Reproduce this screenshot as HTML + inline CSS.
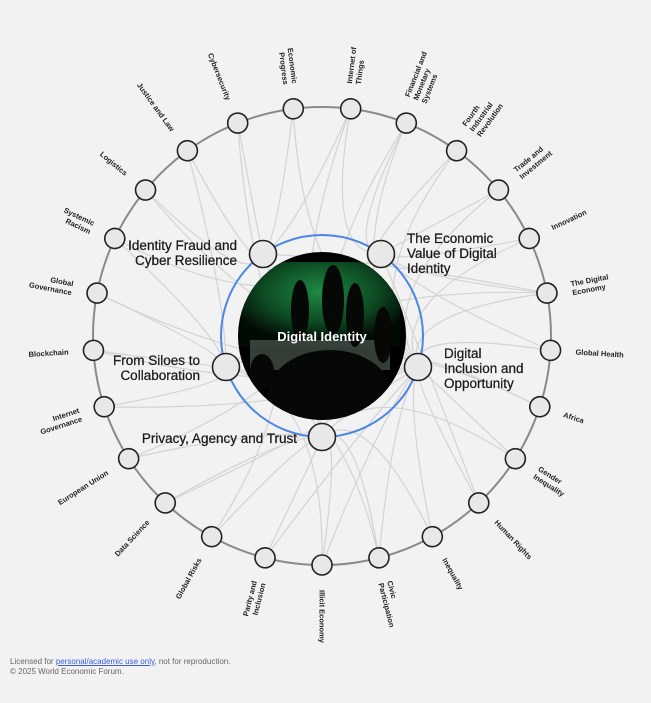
<!DOCTYPE html>
<html><head><meta charset="utf-8"><style>
html,body{margin:0;padding:0;background:#f2f2f2;}
body{width:651px;height:703px;overflow:hidden;position:relative;font-family:"Liberation Sans",sans-serif;}
.foot{position:absolute;left:10px;font-size:8px;color:#666;}
.foot a{color:#3a5de0;text-decoration:underline;}
</style></head><body>
<svg width="651" height="703" viewBox="0 0 651 703" xmlns="http://www.w3.org/2000/svg" style="position:absolute;left:0;top:0">
<defs>
<radialGradient id="g" cx="50%" cy="35%" r="60%"><stop offset="0" stop-color="#1e8a44"/><stop offset="0.6" stop-color="#0d4a22"/><stop offset="1" stop-color="#020a04"/></radialGradient>
<clipPath id="cp"><circle cx="322" cy="336" r="84"/></clipPath>
</defs>
<g id="conn" fill="none" stroke="#d3d3d3" stroke-width="1.2"></g>
<circle cx="322" cy="336" r="229" fill="none" stroke="#8a8a8a" stroke-width="2"/>
<circle cx="322" cy="336" r="101" fill="none" stroke="#4a86e8" stroke-width="2"/>
<g clip-path="url(#cp)">
<rect x="230" y="250" width="190" height="180" fill="#000"/>
<rect x="240" y="262" width="160" height="85" fill="url(#g)"/>
<rect x="250" y="340" width="140" height="30" fill="#6a7a6e" opacity="0.5"/>
<g fill="#050805">
<ellipse cx="300" cy="310" rx="9" ry="30"/><ellipse cx="333" cy="300" rx="11" ry="35"/><ellipse cx="355" cy="315" rx="9" ry="32"/><ellipse cx="383" cy="335" rx="9" ry="28"/><ellipse cx="262" cy="372" rx="12" ry="18"/><ellipse cx="330" cy="395" rx="62" ry="45"/>
</g>
</g>
<text x="322" y="341" text-anchor="middle" fill="#fff" font-size="13" font-weight="bold" font-family="Liberation Sans, sans-serif">Digital Identity</text>
<g fill="#e8e8e8" stroke="#222" stroke-width="1.6">
<circle cx="322" cy="437" r="13.5"/><circle cx="418" cy="367" r="13.5"/><circle cx="381" cy="254" r="13.5"/><circle cx="263" cy="254" r="13.5"/><circle cx="226" cy="367" r="13.5"/>
</g>
<g font-size="13.5" fill="#1a1a1a" font-family="Liberation Sans, sans-serif" stroke="#1a1a1a" stroke-width="0.25">
<text x="237" y="250" text-anchor="end">Identity Fraud and</text>
<text x="237" y="265" text-anchor="end">Cyber Resilience</text>
<text x="407" y="243">The Economic</text><text x="407" y="258">Value of Digital</text><text x="407" y="273">Identity</text>
<text x="444" y="358">Digital</text><text x="444" y="373">Inclusion and</text><text x="444" y="388">Opportunity</text>
<text x="200" y="365" text-anchor="end">From Siloes to</text><text x="200" y="380" text-anchor="end">Collaboration</text>
<text x="297" y="443" text-anchor="end">Privacy, Agency and Trust</text>
</g>
<g id="outer" font-size="7.5" font-weight="bold" fill="#222" font-family="Liberation Sans, sans-serif">
<g transform="rotate(90 322 336)"><circle cx="551" cy="336" r="10" fill="#e8e8e8" stroke="#222" stroke-width="1.6"/><text x="576" y="338.5">Illicit Economy</text></g>
<g transform="rotate(75.6 322 336)"><circle cx="551" cy="336" r="10" fill="#e8e8e8" stroke="#222" stroke-width="1.6"/><text x="576" y="334">Civic<tspan x="576" dy="9">Participation</tspan></text></g>
<g transform="rotate(61.2 322 336)"><circle cx="551" cy="336" r="10" fill="#e8e8e8" stroke="#222" stroke-width="1.6"/><text x="576" y="338.5">Inequality</text></g>
<g transform="rotate(46.8 322 336)"><circle cx="551" cy="336" r="10" fill="#e8e8e8" stroke="#222" stroke-width="1.6"/><text x="576" y="338.5">Human Rights</text></g>
<g transform="rotate(32.4 322 336)"><circle cx="551" cy="336" r="10" fill="#e8e8e8" stroke="#222" stroke-width="1.6"/><text x="576" y="334">Gender<tspan x="576" dy="9">Inequality</tspan></text></g>
<g transform="rotate(18 322 336)"><circle cx="551" cy="336" r="10" fill="#e8e8e8" stroke="#222" stroke-width="1.6"/><text x="576" y="338.5">Africa</text></g>
<g transform="rotate(3.6 322 336)"><circle cx="551" cy="336" r="10" fill="#e8e8e8" stroke="#222" stroke-width="1.6"/><text x="576" y="338.5">Global Health</text></g>
<g transform="rotate(-10.8 322 336)"><circle cx="551" cy="336" r="10" fill="#e8e8e8" stroke="#222" stroke-width="1.6"/><text x="576" y="334">The Digital<tspan x="576" dy="9">Economy</tspan></text></g>
<g transform="rotate(-25.2 322 336)"><circle cx="551" cy="336" r="10" fill="#e8e8e8" stroke="#222" stroke-width="1.6"/><text x="576" y="338.5">Innovation</text></g>
<g transform="rotate(-39.6 322 336)"><circle cx="551" cy="336" r="10" fill="#e8e8e8" stroke="#222" stroke-width="1.6"/><text x="576" y="334">Trade and<tspan x="576" dy="9">Investment</tspan></text></g>
<g transform="rotate(-54 322 336)"><circle cx="551" cy="336" r="10" fill="#e8e8e8" stroke="#222" stroke-width="1.6"/><text x="576" y="329.5">Fourth<tspan x="576" dy="9">Industrial</tspan><tspan x="576" dy="9">Revolution</tspan></text></g>
<g transform="rotate(-68.4 322 336)"><circle cx="551" cy="336" r="10" fill="#e8e8e8" stroke="#222" stroke-width="1.6"/><text x="576" y="329.5">Financial and<tspan x="576" dy="9">Monetary</tspan><tspan x="576" dy="9">Systems</tspan></text></g>
<g transform="rotate(-82.8 322 336)"><circle cx="551" cy="336" r="10" fill="#e8e8e8" stroke="#222" stroke-width="1.6"/><text x="576" y="334">Internet of<tspan x="576" dy="9">Things</tspan></text></g>
<g transform="rotate(-97.2 322 336)"><circle cx="551" cy="336" r="10" fill="#e8e8e8" stroke="#222" stroke-width="1.6"/><text transform="rotate(180 576 336)" x="576" y="334" text-anchor="end">Economic<tspan x="576" dy="9">Progress</tspan></text></g>
<g transform="rotate(-111.6 322 336)"><circle cx="551" cy="336" r="10" fill="#e8e8e8" stroke="#222" stroke-width="1.6"/><text transform="rotate(180 576 336)" x="576" y="338.5" text-anchor="end">Cybersecurity</text></g>
<g transform="rotate(-126 322 336)"><circle cx="551" cy="336" r="10" fill="#e8e8e8" stroke="#222" stroke-width="1.6"/><text transform="rotate(180 576 336)" x="576" y="338.5" text-anchor="end">Justice and Law</text></g>
<g transform="rotate(-140.4 322 336)"><circle cx="551" cy="336" r="10" fill="#e8e8e8" stroke="#222" stroke-width="1.6"/><text transform="rotate(180 576 336)" x="576" y="338.5" text-anchor="end">Logistics</text></g>
<g transform="rotate(-154.8 322 336)"><circle cx="551" cy="336" r="10" fill="#e8e8e8" stroke="#222" stroke-width="1.6"/><text transform="rotate(180 576 336)" x="576" y="334" text-anchor="end">Systemic<tspan x="576" dy="9">Racism</tspan></text></g>
<g transform="rotate(-169.2 322 336)"><circle cx="551" cy="336" r="10" fill="#e8e8e8" stroke="#222" stroke-width="1.6"/><text transform="rotate(180 576 336)" x="576" y="334" text-anchor="end">Global<tspan x="576" dy="9">Governance</tspan></text></g>
<g transform="rotate(176.4 322 336)"><circle cx="551" cy="336" r="10" fill="#e8e8e8" stroke="#222" stroke-width="1.6"/><text transform="rotate(180 576 336)" x="576" y="338.5" text-anchor="end">Blockchain</text></g>
<g transform="rotate(162 322 336)"><circle cx="551" cy="336" r="10" fill="#e8e8e8" stroke="#222" stroke-width="1.6"/><text transform="rotate(180 576 336)" x="576" y="334" text-anchor="end">Internet<tspan x="576" dy="9">Governance</tspan></text></g>
<g transform="rotate(147.6 322 336)"><circle cx="551" cy="336" r="10" fill="#e8e8e8" stroke="#222" stroke-width="1.6"/><text transform="rotate(180 576 336)" x="576" y="338.5" text-anchor="end">European Union</text></g>
<g transform="rotate(133.2 322 336)"><circle cx="551" cy="336" r="10" fill="#e8e8e8" stroke="#222" stroke-width="1.6"/><text transform="rotate(180 576 336)" x="576" y="338.5" text-anchor="end">Data Science</text></g>
<g transform="rotate(118.8 322 336)"><circle cx="551" cy="336" r="10" fill="#e8e8e8" stroke="#222" stroke-width="1.6"/><text transform="rotate(180 576 336)" x="576" y="338.5" text-anchor="end">Global Risks</text></g>
<g transform="rotate(104.4 322 336)"><circle cx="551" cy="336" r="10" fill="#e8e8e8" stroke="#222" stroke-width="1.6"/><text transform="rotate(180 576 336)" x="576" y="334" text-anchor="end">Parity and<tspan x="576" dy="9">Inclusion</tspan></text></g>
</g>
</svg>
<div class="foot" style="top:657px">Licensed for <a>personal/academic use only</a>, not for reproduction.</div>
<div class="foot" style="top:667px">© 2025 World Economic Forum.</div>
<script>
(function(){
var C=[322,336],R=229;
var inner=[[322,437],[418,367],[381,254],[263,254],[226,367]];
var links={0:[1,4,0],1:[1,0,4],2:[1,0],3:[1,2],4:[1,0],5:[1,4],6:[1,2],7:[1,2,3,4],8:[2,1],9:[2,1],10:[2,1],11:[2,1,0],12:[2,3,0],13:[3,1],14:[3,0],15:[3,4],16:[3,1],17:[4,2],18:[4,1],19:[4,1],20:[4,1],21:[0,2],22:[0,1],23:[0,3],24:[0,1]};
var g=document.getElementById('conn'),s='';
for(var k=0;k<25;k++){var a=(90-14.4*k)*Math.PI/180;var ox=C[0]+R*Math.cos(a),oy=C[1]+R*Math.sin(a);
(links[k]||[]).forEach(function(i){var p=inner[i];var mx=(ox+p[0])/2,my=(oy+p[1])/2;var cx=C[0]+(mx-C[0])*0.55+(oy-p[1])*0.15,cy=C[1]+(my-C[1])*0.55-(ox-p[0])*0.15;
s+='<path d="M'+p[0]+' '+p[1]+' Q'+cx.toFixed(1)+' '+cy.toFixed(1)+' '+ox.toFixed(1)+' '+oy.toFixed(1)+'"/>';});}
g.innerHTML=s;})();
</script>
</body></html>
